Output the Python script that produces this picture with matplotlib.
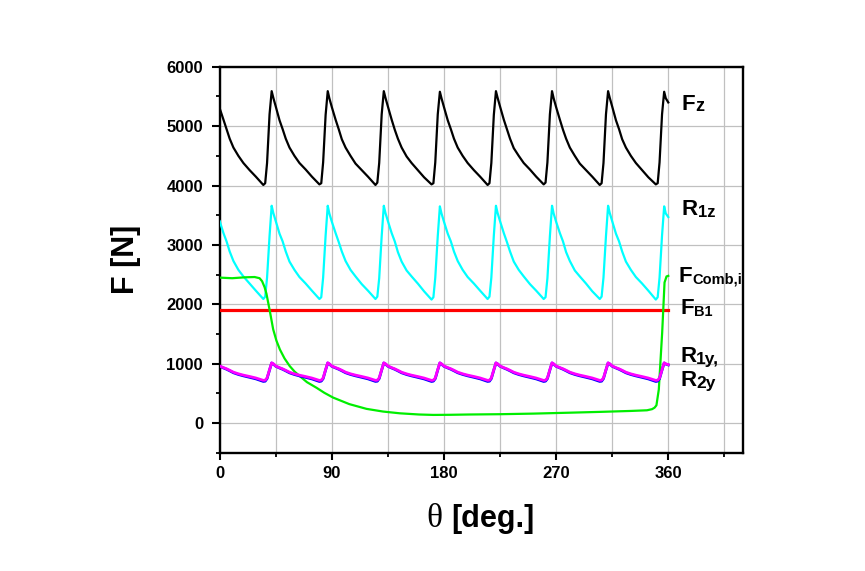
import numpy as np
import matplotlib.pyplot as plt
from matplotlib.ticker import MultipleLocator

plt.rcParams['font.family'] = ['Liberation Sans', 'DejaVu Sans']

# crank angle [deg] shared by the periodic curves
theta = [0, 3, 5.5, 8, 11, 15, 19, 24, 29, 35, 36.5, 38, 40, 41.7, 43,
         45, 48, 50.5, 53, 56, 60, 64, 69, 74, 80, 81.5, 83, 85, 86.7, 88,
         90, 93, 95.5, 98, 101, 105, 109, 114, 119, 125, 126.5, 128, 130, 131.7, 133,
         135, 138, 140.5, 143, 146, 150, 154, 159, 164, 170, 171.5, 173, 175, 176.7, 178,
         180, 183, 185.5, 188, 191, 195, 199, 204, 209, 215, 216.5, 218, 220, 221.7, 223,
         225, 228, 230.5, 233, 236, 240, 244, 249, 254, 260, 261.5, 263, 265, 266.7, 268,
         270, 273, 275.5, 278, 281, 285, 289, 294, 299, 305, 306.5, 308, 310, 311.7, 313,
         315, 318, 320.5, 323, 326, 330, 334, 339, 344, 350, 351.5, 353, 355, 356.7, 358,
         360]

F_z = [5300, 5110, 4950, 4790, 4640, 4500, 4380, 4260, 4150, 4010, 4040, 4380, 5200, 5590, 5480,
       5330, 5100, 4950, 4790, 4640, 4500, 4380, 4270, 4150, 4020, 4040, 4390, 5190, 5590, 5470,
       5320, 5110, 4950, 4780, 4640, 4500, 4370, 4260, 4150, 4010, 4050, 4380, 5200, 5590, 5480,
       5330, 5110, 4940, 4790, 4640, 4490, 4380, 4260, 4140, 4020, 4040, 4390, 5200, 5580, 5470,
       5320, 5100, 4950, 4790, 4640, 4500, 4380, 4260, 4150, 4010, 4040, 4380, 5190, 5590, 5480,
       5330, 5110, 4950, 4790, 4630, 4500, 4380, 4270, 4150, 4020, 4050, 4390, 5200, 5590, 5470,
       5320, 5110, 4940, 4790, 4640, 4500, 4370, 4260, 4150, 4010, 4040, 4380, 5200, 5590, 5480,
       5330, 5100, 4950, 4780, 4640, 4500, 4380, 4260, 4140, 4020, 4040, 4390, 5200, 5580, 5470,
       5400]

R_1z = [3400, 3200, 3060, 2890, 2730, 2580, 2470, 2350, 2230, 2090, 2130, 2450, 3150, 3660, 3540,
        3400, 3190, 3060, 2890, 2720, 2580, 2460, 2350, 2230, 2090, 2120, 2450, 3160, 3660, 3530,
        3390, 3200, 3050, 2890, 2730, 2580, 2470, 2340, 2230, 2090, 2130, 2440, 3150, 3660, 3540,
        3400, 3200, 3060, 2880, 2720, 2570, 2470, 2350, 2220, 2080, 2120, 2450, 3150, 3650, 3530,
        3390, 3190, 3060, 2890, 2730, 2580, 2460, 2350, 2230, 2090, 2130, 2450, 3160, 3660, 3540,
        3400, 3200, 3050, 2890, 2720, 2580, 2470, 2340, 2230, 2090, 2120, 2440, 3150, 3660, 3530,
        3390, 3200, 3060, 2880, 2730, 2570, 2470, 2350, 2220, 2090, 2130, 2450, 3150, 3660, 3540,
        3400, 3190, 3060, 2890, 2720, 2580, 2460, 2350, 2230, 2080, 2120, 2450, 3160, 3650, 3530,
        3470]

R_1y = [962, 935, 915, 890, 858, 830, 808, 785, 760, 720, 723, 762, 900, 1015, 1000,
        962, 934, 914, 889, 857, 829, 807, 784, 759, 719, 724, 760, 902, 1016, 998,
        961, 935, 915, 890, 858, 830, 808, 785, 760, 720, 723, 762, 900, 1015, 1000,
        962, 934, 914, 889, 857, 829, 807, 784, 759, 719, 724, 760, 902, 1016, 998,
        961, 935, 915, 890, 858, 830, 808, 785, 760, 720, 723, 762, 900, 1015, 1000,
        962, 934, 914, 889, 857, 829, 807, 784, 759, 719, 724, 760, 902, 1016, 998,
        961, 935, 915, 890, 858, 830, 808, 785, 760, 720, 723, 762, 900, 1015, 1000,
        962, 934, 914, 889, 857, 829, 807, 784, 759, 719, 724, 760, 902, 1016, 998,
        985]

R_2y = [957, 929, 907, 881, 848, 819, 796, 771, 745, 702, 706, 750, 895, 1012, 995,
        957, 928, 906, 880, 847, 818, 795, 770, 744, 701, 707, 749, 896, 1012, 994,
        956, 929, 907, 881, 848, 819, 796, 771, 745, 702, 706, 750, 895, 1012, 995,
        957, 928, 906, 880, 847, 818, 795, 770, 744, 701, 707, 749, 896, 1012, 994,
        956, 929, 907, 881, 848, 819, 796, 771, 745, 702, 706, 750, 895, 1012, 995,
        957, 928, 906, 880, 847, 818, 795, 770, 744, 701, 707, 749, 896, 1012, 994,
        956, 929, 907, 881, 848, 819, 796, 771, 745, 702, 706, 750, 895, 1012, 995,
        957, 928, 906, 880, 847, 818, 795, 770, 744, 701, 707, 749, 896, 1012, 994,
        980]

theta_comb = [0, 10, 20, 28, 32, 34, 36, 37.5, 40.2, 42.9, 45.5, 48.3, 52,
              56.2, 60, 64.3, 70, 77.7, 84, 91, 104, 117.8, 131, 144.6, 160,
              171.4, 184.8, 200, 225, 251.8, 280, 305, 330, 342.9, 347, 349,
              350.5, 352.4, 355.1, 357, 358.6, 360]
F_comb = [2450, 2440, 2455, 2460, 2440, 2390, 2290, 2180, 1890, 1580, 1390,
          1240, 1090, 960, 870, 790, 690, 595, 510, 430, 320, 240, 195, 165,
          145, 138, 140, 145, 150, 160, 175, 189, 205, 216, 235, 260, 300,
          566, 1523, 2368, 2470, 2480]

theta_b1 = [0, 360]
F_B1 = [1910, 1910]

fig = plt.figure(figsize=(8.65, 5.71), dpi=100)
ax = fig.add_axes([0.254, 0.207, 0.605, 0.676])

ax.plot(theta_b1, F_B1, color='#ff0000', lw=2.3, zorder=3)
ax.plot(theta, F_z, color='black', lw=1.6, zorder=4)
ax.plot(theta, R_1z, color='#00ffff', lw=1.6, zorder=4)
ax.plot(theta_comb, F_comb, color='#00ee00', lw=1.6, zorder=5)
ax.plot(theta, R_2y, color='#0000ff', lw=2.0, zorder=6)
ax.plot(theta, R_1y, color='#ff00ff', lw=2.0, zorder=7)

ax.set_xlim(0, 420)
ax.set_ylim(-500, 6000)
ax.xaxis.set_major_locator(MultipleLocator(90))
ax.xaxis.set_minor_locator(MultipleLocator(45))
ax.yaxis.set_major_locator(MultipleLocator(1000))
ax.set_yticks(np.arange(-500, 6000, 1000), minor=True)
ax.set_xticks([0, 90, 180, 270, 360])

ax.grid(True, which='major', color='#c0c0c0', lw=0.9)
ax.grid(True, which='minor', axis='x', color='#c0c0c0', lw=0.9)
ax.set_axisbelow(True)

for s in ax.spines.values():
    s.set_linewidth(1.7)
ax.tick_params(axis='both', which='major', direction='out', width=1.5,
               labelsize=12, top=False, right=False)
ax.tick_params(axis='x', which='major', length=5, pad=4.5)
ax.tick_params(axis='y', which='major', length=6, pad=6)
ax.tick_params(axis='both', which='minor', direction='out', width=1.3,
               length=3, top=False, right=False)
for lab in ax.get_xticklabels() + ax.get_yticklabels():
    lab.set_fontweight('bold')

ax.set_ylabel('F [N]', fontsize=22, fontweight='bold', labelpad=18)

# x label: serif theta followed by bold sans text
th = fig.text(426.7 / 865, 1 - 526.7 / 571, 'θ', family='Liberation Serif',
              fontsize=24, ha='left', va='baseline')
ax.annotate('[deg.]', xy=(1, 0), xycoords=th, xytext=(6, 0),
            textcoords='offset points', fontsize=22, fontweight='bold',
            ha='left', va='bottom')

# curve labels on the right
labels = [
    (371, 5267, 'F', 'z', 13),
    (371, 3505, 'R', '1z', 12),
    (368.3, 2378, 'F', 'Comb,i', 10.5),
    (369.6, 1833, 'F', 'B1', 10.5),
    (369.6, 1027, 'R', '1y,', 12.5),
    (369.6, 622, 'R', '2y', 12.5),
]
for x, y, main, sub, ssize in labels:
    t = ax.text(x, y, main, fontsize=16, fontweight='bold', ha='left',
                va='baseline', clip_on=False)
    ax.annotate(sub, xy=(1, 0), xycoords=t, fontsize=ssize,
                fontweight='bold', ha='left', va='bottom',
                annotation_clip=False)

fig.savefig('out.png', dpi=100)
plt.close(fig)
